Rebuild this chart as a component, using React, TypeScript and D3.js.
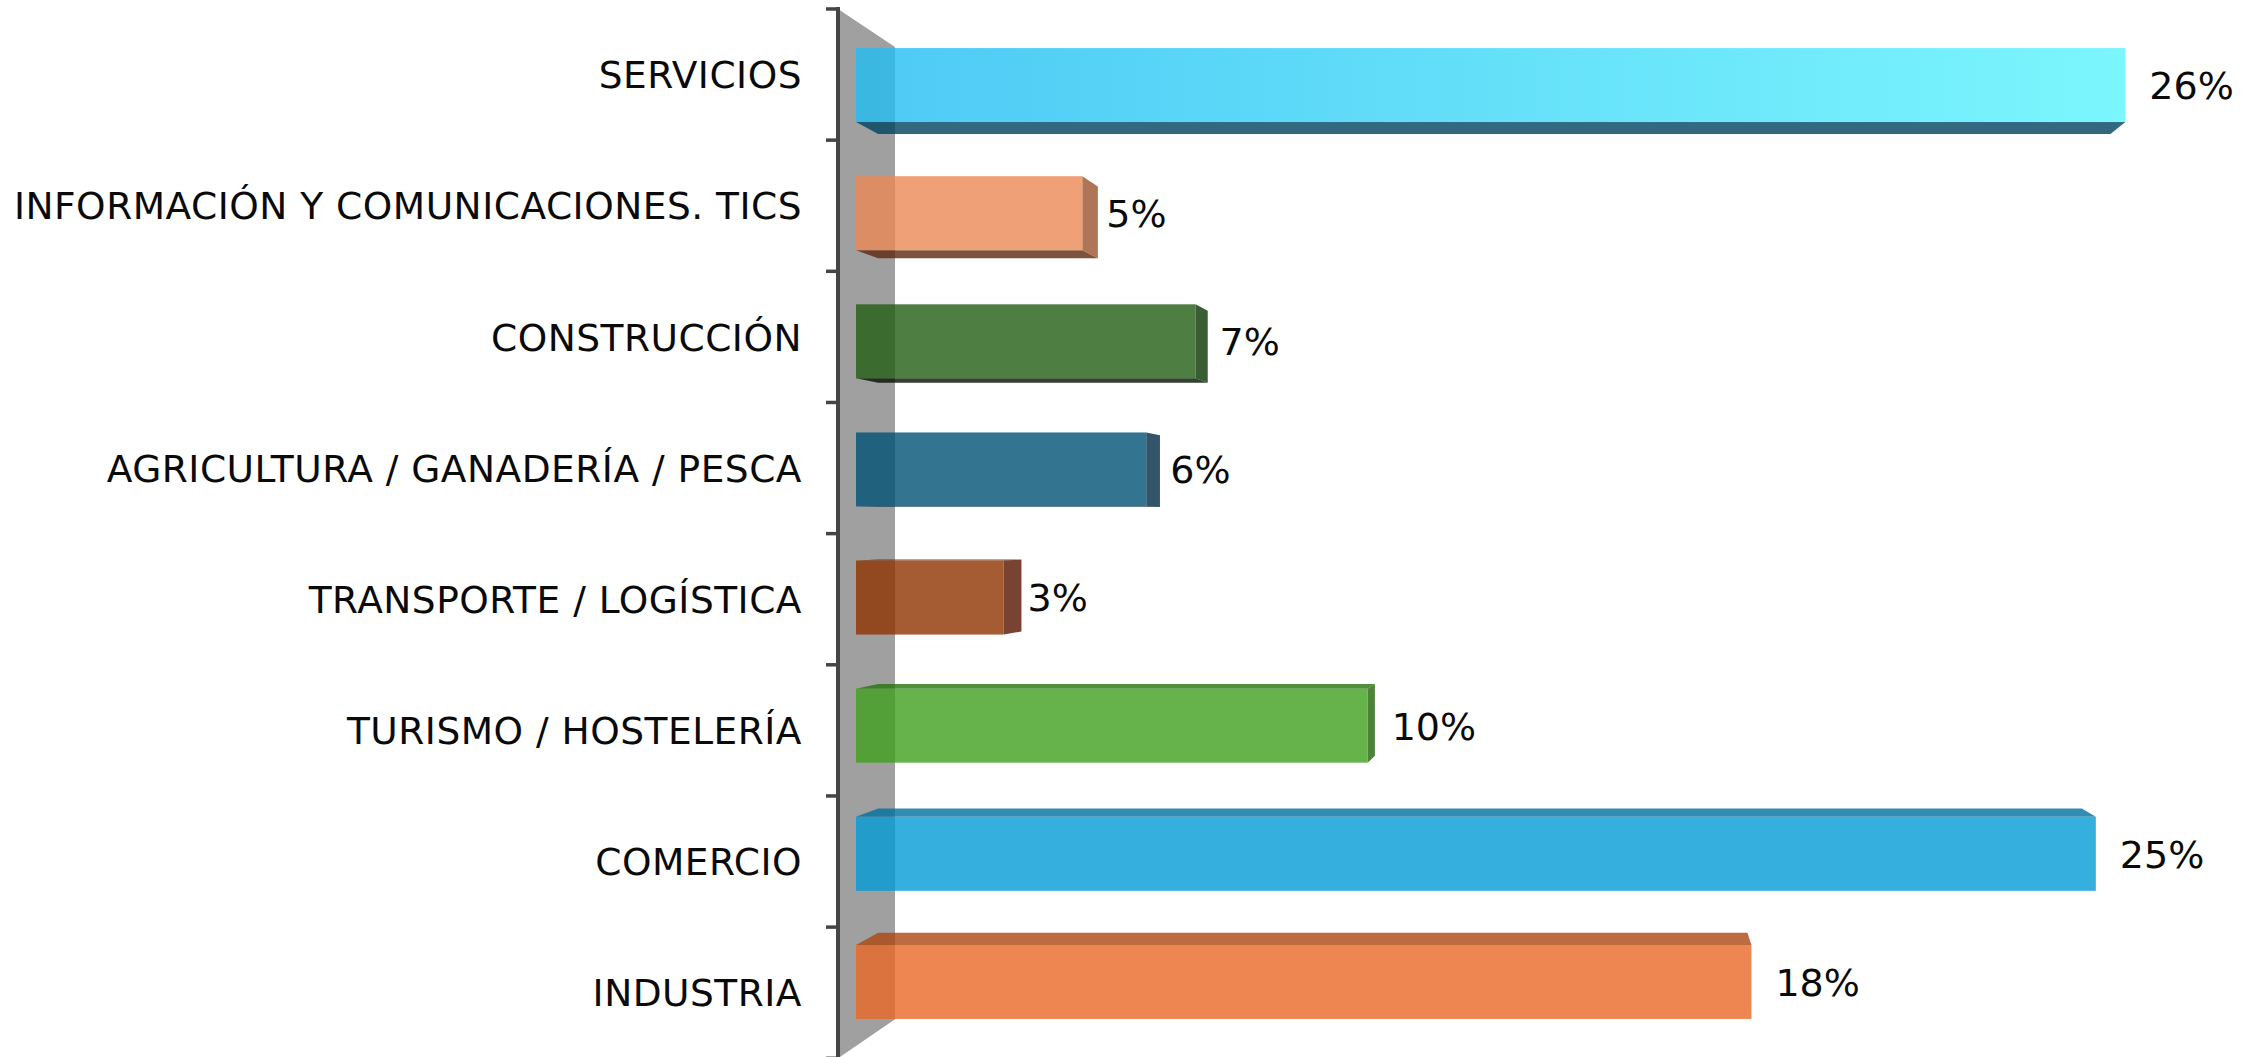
import { useEffect, useRef } from 'react'
import * as d3 from 'd3'

const categories = [
  'SERVICIOS',
  'INFORMACIÓN Y COMUNICACIONES. TICS',
  'CONSTRUCCIÓN',
  'AGRICULTURA / GANADERÍA / PESCA',
  'TRANSPORTE / LOGÍSTICA',
  'TURISMO / HOSTELERÍA',
  'COMERCIO',
  'INDUSTRIA',
]
const shares = [25.8, 4.6, 6.9, 5.9, 3.0, 10.4, 25.2, 18.2]
const barColors = ['#4dc9f5', '#f0a077', '#4e7e42', '#2c7591', '#a55c32', '#67b34b', '#35afde', '#ed8650']
const highlightColors = ['#7bf6fd', null, null, null, null, null, null, null]

const W = 2262
const H = 1057
const ALPHA = 0.8

// perspective: everything is scaled toward a vanishing point by depth factor
const VP = [1615, 528]
const WALL_FRONT = 1.0237
const WALL_BACK = 0.9486
const BAR_BACK = 0.9708

const proj = (x: number, y: number, s: number): [number, number] => [
  VP[0] + (x - VP[0]) * s,
  VP[1] + (y - VP[1]) * s,
]

// colors below are how they look over white; bars are see-through
const unblend = (c: d3.RGBColor) => {
  const f = (v: number) => Math.max(0, Math.min(255, (v - (1 - ALPHA) * 255) / ALPHA))
  return d3.rgb(f(c.r), f(c.g), f(c.b)).formatHex()
}
const shade = (hex: string, k: number) => {
  const c = d3.rgb(hex)
  return unblend(d3.rgb(c.r * k, c.g * k, c.b * k))
}

export default function App() {
  const svgRef = useRef<SVGSVGElement>(null)

  useEffect(() => {
    if (!svgRef.current) return
    const svg = d3.select(svgRef.current)
    svg.selectAll('*').remove()

    const x = d3.scaleLinear().domain([0, 30]).range([856, 856 + 30 * 49.2])
    const y = d3.scaleBand<string>()
      .domain(categories)
      .range([21, 1046])
      .paddingInner(0.4225)
      .paddingOuter(0.21125)
    const bw = y.bandwidth()
    const [r0, r1] = y.range()

    const defs = svg.append('defs')

    // Side wall
    const wall = [
      proj(x(0), r0, WALL_FRONT),
      proj(x(0), r0, WALL_BACK),
      proj(x(0), r1, WALL_BACK),
      proj(x(0), r1, WALL_FRONT),
    ]
    svg.append('polygon')
      .attr('points', wall.map((p) => p.join(',')).join(' '))
      .attr('fill', '#a0a0a0')

    const poly = (pts: [number, number][]) => pts.map((p) => p.join(',')).join(' ')

    categories.forEach((cat, i) => {
      const x0 = x(0)
      const x1 = x(shares[i])
      const y0 = y(cat)!
      const y1 = y0 + bw
      const base = barColors[i]
      const g = svg.append('g').attr('fill-opacity', ALPHA)

      if (y0 > VP[1]) {
        g.append('polygon')
          .attr('points', poly([[x0, y0], [x1, y0], proj(x1, y0, BAR_BACK), proj(x0, y0, BAR_BACK)]))
          .attr('fill', shade(base, 0.8))
      }
      if (y1 < VP[1]) {
        g.append('polygon')
          .attr('points', poly([[x0, y1], [x1, y1], proj(x1, y1, BAR_BACK), proj(x0, y1, BAR_BACK)]))
          .attr('fill', shade(base, 0.52))
      }
      if (x1 < VP[0]) {
        g.append('polygon')
          .attr('points', poly([[x1, y0], [x1, y1], proj(x1, y1, BAR_BACK), proj(x1, y0, BAR_BACK)]))
          .attr('fill', shade(base, 0.73))
      }

      let fill = shade(base, 1)
      const hi = highlightColors[i]
      if (hi) {
        const id = `grad-${i}`
        const grad = defs.append('linearGradient')
          .attr('id', id)
          .attr('gradientUnits', 'userSpaceOnUse')
          .attr('x1', x0).attr('x2', x1).attr('y1', 0).attr('y2', 0)
        grad.append('stop').attr('offset', 0).attr('stop-color', shade(base, 1))
        grad.append('stop').attr('offset', 1).attr('stop-color', shade(hi, 1))
        fill = `url(#${id})`
      }
      g.append('rect')
        .attr('x', x0).attr('y', y0)
        .attr('width', x1 - x0).attr('height', bw)
        .attr('fill', fill)
    })

    // Category axis on the front edge of the wall
    const axisX = proj(x(0), 0, WALL_FRONT)[0]
    const boundaries = d3.range(categories.length + 1).map((k) => r0 + k * y.step())
    svg.append('line')
      .attr('x1', axisX).attr('x2', axisX)
      .attr('y1', proj(x(0), r0, WALL_FRONT)[1] - 2)
      .attr('y2', proj(x(0), r1, WALL_FRONT)[1])
      .attr('stroke', '#454545').attr('stroke-width', 4)
    svg.selectAll('line.tick')
      .data(boundaries)
      .join('line')
      .attr('class', 'tick')
      .attr('x1', axisX - 12).attr('x2', axisX)
      .attr('y1', (d) => proj(x(0), d, WALL_FRONT)[1])
      .attr('y2', (d) => proj(x(0), d, WALL_FRONT)[1])
      .attr('stroke', '#454545').attr('stroke-width', 3.5)

    const catSize = 37.5
    svg.selectAll('text.cat')
      .data(categories)
      .join('text')
      .attr('class', 'cat')
      .attr('x', 802)
      .attr('y', (d) => proj(x(0), y(d)! + bw / 2, WALL_FRONT)[1] + catSize * 0.365)
      .attr('text-anchor', 'end')
      .attr('font-family', 'DejaVu Sans')
      .attr('font-size', catSize)
      .attr('letter-spacing', 0.5)
      .attr('fill', '#0a0a0a')
      .text((d) => d)

    const valSize = 38
    svg.selectAll('text.val')
      .data(categories)
      .join('text')
      .attr('class', 'val')
      .attr('x', (_, i) => x(shares[i]) + 24)
      .attr('y', (d) => y(d)! + bw / 2 + valSize * 0.365)
      .attr('font-family', 'DejaVu Sans')
      .attr('font-size', valSize)
      .attr('fill', '#0a0a0a')
      .text((_, i) => `${d3.format('.0f')(shares[i])}%`)
  }, [])

  return (
    <svg
      ref={svgRef}
      width={W}
      height={H}
      style={{ position: 'absolute', left: 0, top: 0, background: '#fff' }}
    />
  )
}
